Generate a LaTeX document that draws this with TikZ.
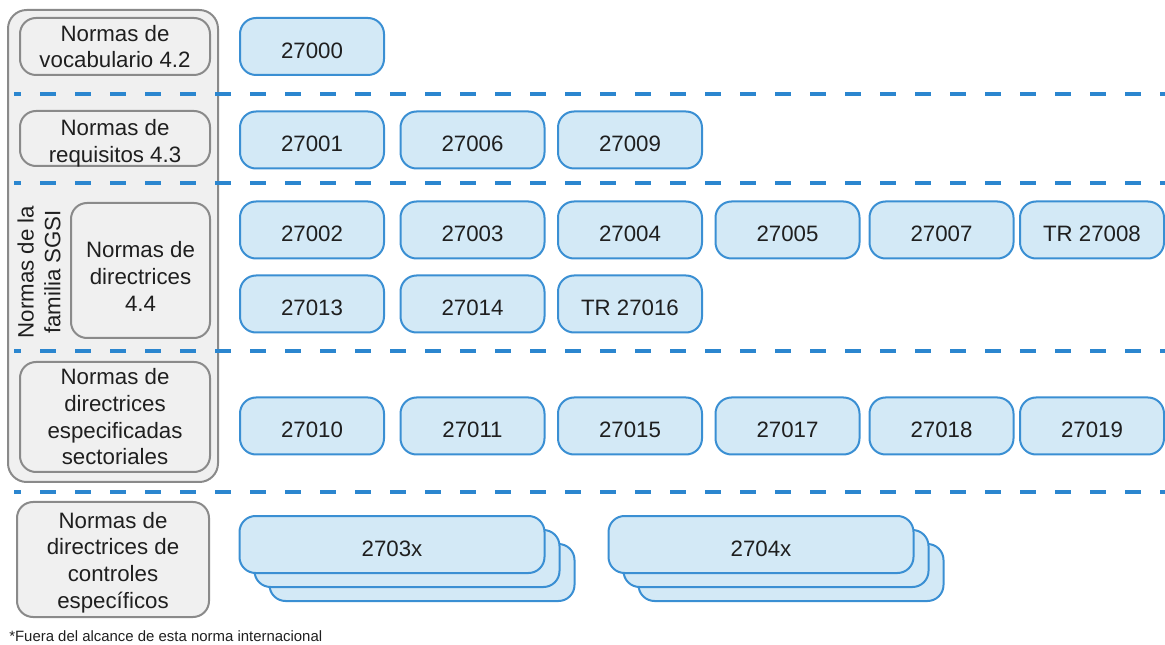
\documentclass[tikz,border=0pt]{standalone}
\usepackage{fontspec}
\setmainfont{Liberation Sans}
\usetikzlibrary{positioning}

\definecolor{normblue}{HTML}{3A8FD3}
\definecolor{normfill}{HTML}{D3E9F6}
\definecolor{sepblue}{HTML}{2B86CF}
\definecolor{greyline}{HTML}{8A8A8A}
\definecolor{greyfill}{HTML}{F0F0F0}

\begin{document}
\begin{tikzpicture}[x=0.75pt, y=-0.75pt,
    every node/.style={font=\fontsize{16.7}{20}\selectfont, text=black!88},
    norma/.style={draw=normblue, fill=normfill, line width=1.5pt, rounded corners=12pt,
        minimum width=108pt, minimum height=42.75pt, inner sep=0pt, text height=18pt, text depth=0pt},
    grupo/.style={draw=greyline, fill=greyfill, line width=1.5pt, rounded corners=12pt,
        align=center, inner sep=0pt},
    texto/.style={align=center, inner sep=0pt},
    separador/.style={sepblue, line width=3pt, dash pattern=on 12pt off 14.25pt, dash phase=6.75pt}]

    \useasboundingbox (0,0) rectangle (1165,645);

    % columna gris de la izquierda
    \node[grupo, rounded corners=14pt, minimum width=157.5pt, minimum height=354pt] (familia) at (113,246) {};
    \node[grupo, minimum width=142.5pt, minimum height=42.75pt] (vocab) at (115,46.5) {Normas de\\vocabulario 4.2};
    \node[grupo, minimum width=142.5pt, minimum height=41.25pt,
        label={[texto, yshift=-3.75pt]center:{Normas de\\requisitos 4.3}}] (requi) at (115,138.5) {};
    \node[grupo, minimum width=104.25pt, minimum height=101.25pt,
        label={[texto, yshift=-4.5pt]center:{Normas de\\directrices\\4.4}}] (direc) at (140.5,270.5) {};
    \node[grupo, minimum width=142.5pt, minimum height=82.5pt] (secto) at (115,417) {Normas de\\directrices\\especificadas\\sectoriales};
    \node[grupo, minimum width=144pt, minimum height=86.25pt,
        label={[texto, yshift=-2.25pt]center:{Normas de\\directrices de\\controles\\espec\'{\i}ficos}}] (contr) at (113,559.5) {};
    \node[rotate=90, texto] (sgsi) at (39,272) {Normas de la\\familia SGSI};

    % lineas de separacion
    \foreach \y in {94,183,351,492}
        \draw[separador] (14,\y) -- (1165,\y);

    % normas
    \node[norma] (voc1) at (312,46.5) {27000};

    \foreach \txt/\x [count=\i] in {27001/312, 27006/472.5, 27009/630}
        \node[norma] (req\i) at (\x,140) {\txt};

    \foreach \txt/\x [count=\i] in {27002/312, 27003/472.5, 27004/630, 27005/787.5, 27007/941.5, TR 27008/1092}
        \node[norma] (dir\i) at (\x,230) {\txt};

    \foreach \txt/\x [count=\i] in {27013/312, 27014/472.5, TR 27016/630}
        \node[norma] (dirb\i) at (\x,304) {\txt};

    \foreach \txt/\x [count=\i] in {27010/312, 27011/472.5, 27015/630, 27017/787.5, 27018/941.5, 27019/1092}
        \node[norma] (sec\i) at (\x,426) {\txt};

    % pilas de normas
    \foreach \k in {2,1} {
        \node[norma, minimum width=228.75pt] (ctla\k) at ({392+15*\k},{544.5+14*\k}) {};
        \node[norma, minimum width=228.75pt] (ctlb\k) at ({761+15*\k},{544.5+14*\k}) {};
    }
    \node[norma, minimum width=228.75pt] (ctla0) at (392,544.5) {2703x};
    \node[norma, minimum width=228.75pt] (ctlb0) at (761,544.5) {2704x};

    \node[anchor=west, inner sep=0pt, font=\fontsize{11.2}{13}\selectfont] (nota) at (9,636)
        {*Fuera del alcance de esta norma internacional};
\end{tikzpicture}
\end{document}
